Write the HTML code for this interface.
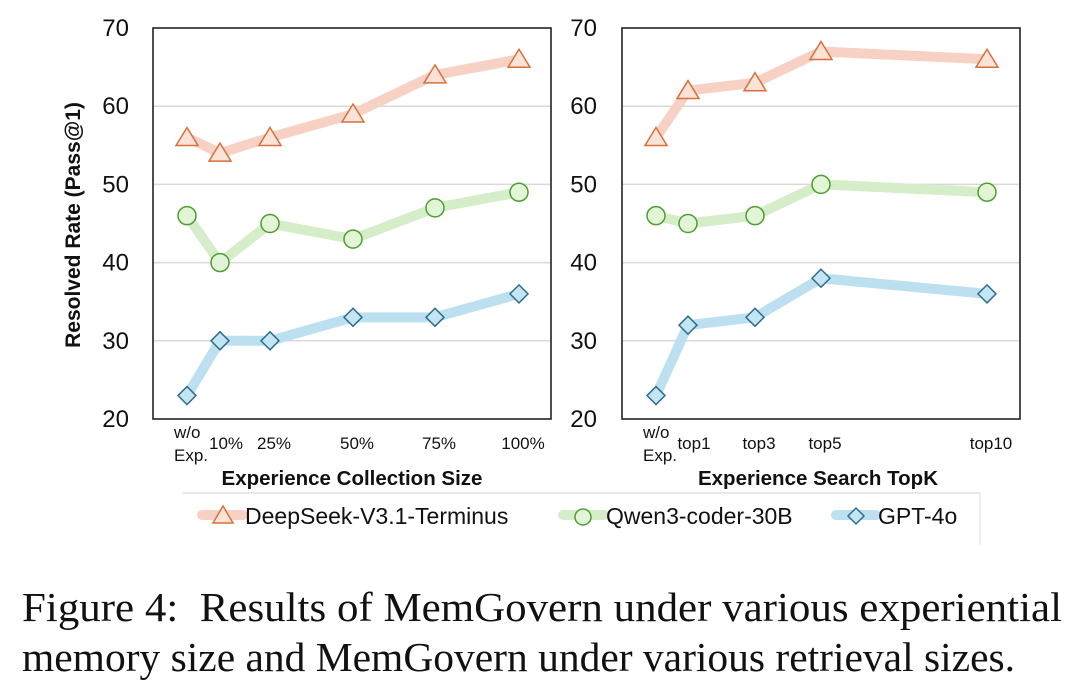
<!DOCTYPE html>
<html><head><meta charset="utf-8"><style>
body{margin:0;background:#fff;width:1080px;height:694px;overflow:hidden;}
svg text{font-family:"Liberation Sans",sans-serif;}
.cap{position:absolute;left:22px;font-family:"Liberation Serif",serif;font-size:41px;color:#111;white-space:nowrap;transform-origin:0 0;}
</style></head><body>
<svg id="chart" width="1080" height="560" style="position:absolute;left:0;top:0"></svg>
<div class="cap" id="c1" style="top:583px;">Figure 4:&nbsp; Results of MemGovern under various experiential</div>
<div class="cap" id="c2" style="top:633px;">memory size and MemGovern under various retrieval sizes.</div>
<script>
const leftCats = ["w/o Exp.","10%","25%","50%","75%","100%"];
const rightCats = ["w/o Exp.","top1","top3","top5","top10"];
const leftDeepSeek = [56,54,56,59,64,66];
const leftQwen = [46,40,45,43,47,49];
const leftGPT = [23,30,30,33,33,36];
const rightDeepSeek = [56,62,63,67,66];
const rightQwen = [46,45,46,50,49];
const rightGPT = [23,32,33,38,36];
const yTicks = [20,30,40,50,60,70];

const NS="http://www.w3.org/2000/svg";
const svg=document.getElementById('chart');
function mk(tag,attrs,parent){const e=document.createElementNS(NS,tag);for(const k in attrs)e.setAttribute(k,attrs[k]);(parent||svg).appendChild(e);return e;}
const styles={
 ds:{line:"#f7d2c4",stroke:"#d7703c",fill:"#fbe3d7"},
 qw:{line:"#d6edca",stroke:"#4c9e30",fill:"#e3f5d7"},
 gp:{line:"#bde0f0",stroke:"#2f6e8c",fill:"#c3e5f4"}
};
function marker(type,x,y,g){
 const s=styles[type];let m;
 if(type==='ds'){m=mk('polygon',{points:`${x},${y-10} ${x+11},${y+8} ${x-11},${y+8}`,fill:s.fill,stroke:s.stroke,'stroke-width':1.5},g);}
 else if(type==='qw'){m=mk('circle',{cx:x,cy:y,r:9,fill:s.fill,stroke:s.stroke,'stroke-width':1.5},g);}
 else {m=mk('polygon',{points:`${x},${y-9} ${x+9},${y} ${x},${y+9} ${x-9},${y}`,fill:s.fill,stroke:s.stroke,'stroke-width':1.5},g);}
 return m;
}
function panel(name,box,xpos,cats,series,title,titleX,labelX){
 const g=mk('g',{});
 
 
 const yS=v=>box.y1+(70-v)/(70-20)*(box.y2-box.y1);
 yTicks.forEach(t=>{
  if(t>20&&t<70){const l=mk('line',{x1:box.x1,x2:box.x2,y1:yS(t),y2:yS(t),stroke:"#d9d9d9",'stroke-width':1.5},g);
   
   }
  const tx=mk('text',{x:labelX,y:yS(t)+8,'text-anchor':'end','font-size':24,fill:'#111'},g);tx.textContent=t;
  
  
 });
 const r=mk('rect',{x:box.x1,y:box.y1,width:box.x2-box.x1,height:box.y2-box.y1,fill:'none',stroke:'#222','stroke-width':1.6},g);
 
 
 const xS=i=>xpos[i];
 cats.forEach((c,i)=>{
  if(c==="w/o Exp."){
   const a=mk('text',{x:xS(i)-13,y:box.y2+19,'font-size':17,fill:'#111'},g);a.textContent="w/o";
   
   
   const b=mk('text',{x:xS(i)-13,y:box.y2+42,'font-size':17,fill:'#111'},g);b.textContent="Exp.";
   
   
  } else {
   const t=mk('text',{x:xS(i)+(i===1?6:4),y:box.y2+30,'text-anchor':'middle','font-size':17,fill:'#111'},g);t.textContent=c;
   
   
  }
 });
 series.forEach(([type,vals,sname])=>{
  const pts=vals.map((v,i)=>xS(i)+","+yS(v)).join(" ");
  const pl=mk('polyline',{points:pts,fill:'none',stroke:styles[type].line,'stroke-width':10,'stroke-linejoin':'round','stroke-linecap':'round'},g);
  
  
  vals.forEach((v,i)=>{const m=marker(type,xS(i),yS(v),g);
   
   });
 });
 const tt=mk('text',{x:titleX,y:485,'text-anchor':'middle','font-size':20.5,'font-weight':'bold',fill:'#111'},g);tt.textContent=title;
 
 
}
panel('left-chart',{x1:153,x2:551,y1:28,y2:419},[187,220,270,353,435,519],leftCats,
 [['ds',leftDeepSeek,'deepseek'],['qw',leftQwen,'qwen'],['gp',leftGPT,'gpt4o']],'Experience Collection Size',352,129);
panel('right-chart',{x1:622,x2:1020,y1:28,y2:419},[656,688,755,821,987],rightCats,
 [['ds',rightDeepSeek,'deepseek'],['qw',rightQwen,'qwen'],['gp',rightGPT,'gpt4o']],'Experience Search TopK',818,597);
const yt=mk('text',{x:0,y:0,transform:'translate(80,225) rotate(-90)','text-anchor':'middle','font-size':21,'font-weight':'bold',fill:'#111'});
yt.textContent="Resolved Rate (Pass@1)";


const lg=mk('g',{});


mk('line',{x1:183,x2:980,y1:493,y2:493,stroke:'#d9d9d9','stroke-width':1.2},lg);
mk('line',{x1:980,x2:980,y1:493,y2:545,stroke:'#e6e6e6','stroke-width':1.2},lg);
[['ds',202,243,223,245,'DeepSeek-V3.1-Terminus'],['qw',563,604,583,606,'Qwen3-coder-30B'],['gp',836,876,856,878,'GPT-4o']].forEach(([t,a,b,m,tx,lab])=>{
 const e=mk('g',{},lg);
 
 
 mk('line',{x1:a,x2:b,y1:515,y2:515,stroke:styles[t].line,'stroke-width':10,'stroke-linecap':'round'},e);
 const mm=marker(t,m,517,e);
 if(t==='ds')mm.setAttribute('points',`${m},${506} ${m+10},${523} ${m-10},${523}`);
 if(t==='qw')mm.setAttribute('r',8);
 if(t==='gp')mm.setAttribute('points',`${m},${508} ${m+8},${516} ${m},${524} ${m-8},${516}`);
 const tt=mk('text',{x:tx,y:524,'font-size':23,fill:'#111'},e);tt.textContent=lab;
});
function fit(id,w){const el=document.getElementById(id);const nw=el.getBoundingClientRect().width;el.style.transform='scaleX('+(w/nw)+')';}
fit('c1',1040);
fit('c2',993);
</script>
</body></html>
